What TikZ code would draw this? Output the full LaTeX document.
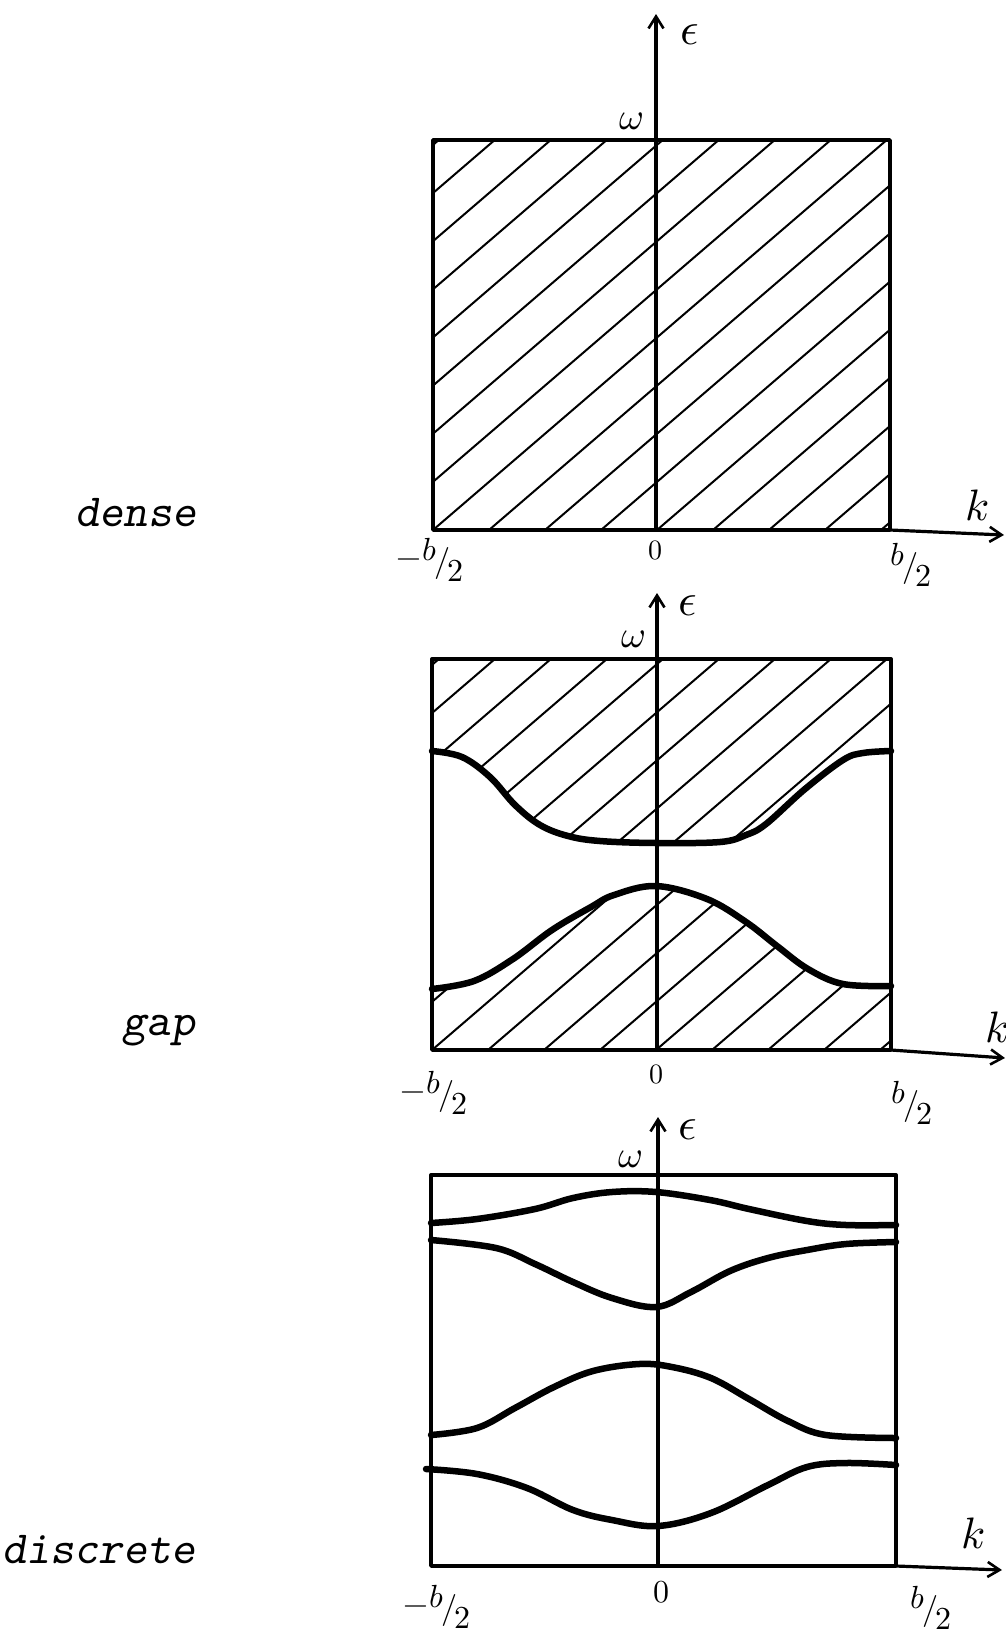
\documentclass[tikz,border=0pt]{standalone}
\usepackage{fontspec}
\usepackage{unicode-math}
\usetikzlibrary{arrows.meta}
\newcommand\halfb{\raisebox{0.34em}{$b$}\kern-0.08em$/$\kern-0.08em\raisebox{-0.30em}{$2$}}
\newcommand\negb{\raisebox{0.12em}{$-$}\kern0.05em\halfb}
\begin{document}
\begin{tikzpicture}[x=1pt,y=-1pt,
  frame/.style={line width=3.4pt, line join=round},
  axisline/.style={line width=3.2pt, -{Straight Barb[length=12pt,width=15pt,line width=2.6pt]}},
  hatch/.style={line width=2pt},
  band/.style={line width=6.5pt, line cap=round, line join=round},
  epslab/.style={font=\fontsize{46}{50}\selectfont, inner sep=0pt},
  omglab/.style={font=\fontsize{38}{42}\selectfont, inner sep=0pt},
  klab/.style={font=\fontsize{44}{48}\selectfont, inner sep=0pt},
  fraclab/.style={font=\fontsize{32}{36}\selectfont, inner sep=0pt},
  zerolab/.style={font=\fontsize{28}{32}\selectfont, inner sep=0pt},
  bigzerolab/.style={font=\fontsize{32}{36}\selectfont, inner sep=0pt},
  wordlab/.style={font=\fontsize{46}{50}\selectfont\ttfamily\slshape, inner sep=0pt}]
\useasboundingbox (0,0) rectangle (1006,1636);
\fill[white] (0,0) rectangle (1006,1636);

% ---------- panel 1 : dense ----------
\coordinate (a1) at (433,140);
\coordinate (b1) at (890,530);
\begin{scope}
  \clip (a1) rectangle (b1);
  \foreach \i in {-9,...,9} \draw[hatch] ({433+56*\i},530) -- ++(470,-404);
\end{scope}
\draw[frame] (a1) rectangle (b1);
\coordinate (o1) at (656,530);
\coordinate (t1) at (656,14);
\coordinate (r1) at (1004,535);
\draw[axisline] (o1) -- (t1);
\draw[axisline] (b1) -- (r1);
\node[epslab] (eps1) at (690,35) {$\epsilon$};
\node[omglab] (om1) at (632,121) {$\omega$};
\node[klab] (k1) at (977,505) {$k$};
\node[fraclab] (mb1) at (430,560) {\negb};
\node[zerolab] (z1) at (655,550) {$0$};
\node[fraclab] (pb1) at (911,565) {\halfb};
\node[wordlab] (w1) at (136,513) {dense};

% ---------- panel 2 : gap ----------
\coordinate (a2) at (432,659);
\coordinate (b2) at (891,1050);
\def\uppertwo{(432,751) (462,757) (490,777) (515,805) (540,825) (568,836) (600,841) (656,843) (720,842) (746,835) (766,824) (805,789) (843,760) (863,753) (891,751)}
\def\lowertwo{(432,989) (474,981) (513,959) (552,930) (591,907) (614,895) (656,886) (707,899) (746,922) (777,946) (808,969) (843,984) (891,986)}
\begin{scope}
  \clip (432,659) -- (891,659) -- (891,751) -- plot[smooth,tension=0.6] coordinates {(863,753) (843,760) (805,789) (766,824) (746,835) (720,842) (656,843) (600,841) (568,836) (540,825) (515,805) (490,777) (462,757) (432,751)} -- cycle
        (432,1050) -- (891,1050) -- (891,986) -- plot[smooth,tension=0.6] coordinates {(843,984) (808,969) (777,946) (746,922) (707,899) (656,886) (614,895) (591,907) (552,930) (513,959) (474,981) (432,989)} -- cycle;
  \foreach \i in {-9,...,9} \draw[hatch] ({432+56*\i},1050) -- ++(470,-404);
\end{scope}
\draw[frame] (a2) rectangle (b2);
\draw[band] plot[smooth,tension=0.6] coordinates {\uppertwo};
\draw[band] plot[smooth,tension=0.6] coordinates {\lowertwo};
\coordinate (o2) at (657,1050);
\coordinate (t2) at (657,593);
\coordinate (r2) at (1005,1058);
\draw[axisline] (o2) -- (t2);
\draw[axisline] (b2) -- (r2);
\node[epslab] (eps2) at (688,606) {$\epsilon$};
\node[omglab] (om2) at (634,639) {$\omega$};
\node[klab] (k2) at (997,1027) {$k$};
\node[fraclab] (mb2) at (434,1093) {\negb};
\node[zerolab] (z2) at (656,1074) {$0$};
\node[fraclab] (pb2) at (912,1103) {\halfb};
\node[wordlab] (w2) at (159,1031) {gap};

% ---------- panel 3 : discrete ----------
\coordinate (a3) at (431,1175);
\coordinate (b3) at (896,1566);
\draw[frame] (a3) rectangle (b3);
\draw[band] plot[smooth,tension=0.6] coordinates {(431,1223) (477,1219) (535,1209) (573,1198) (612,1192) (656,1192) (710,1200) (749,1209) (807,1221) (846,1225) (896,1225)};
\draw[band] plot[smooth,tension=0.6] coordinates {(431,1240) (496,1248) (535,1264) (573,1282) (612,1298) (656,1307) (691,1292) (730,1271) (768,1258) (807,1250) (846,1244) (896,1242)};
\draw[band] plot[smooth,tension=0.6] coordinates {(431,1435) (477,1428) (515,1408) (554,1387) (593,1371) (639,1364) (672,1367) (711,1378) (749,1399) (788,1421) (826,1435) (896,1438)};
\draw[band] plot[smooth,tension=0.6] coordinates {(426,1469) (477,1474) (527,1488) (573,1510) (612,1520) (658,1526) (711,1513) (768,1485) (807,1467) (846,1463) (896,1465)};
\coordinate (o3) at (658,1566);
\coordinate (t3) at (658,1117);
\coordinate (r3) at (1002,1570);
\draw[axisline] (o3) -- (t3);
\draw[axisline] (b3) -- (r3);
\node[epslab] (eps3) at (688,1130) {$\epsilon$};
\node[omglab] (om3) at (631,1159) {$\omega$};
\node[klab] (k3) at (973,1533) {$k$};
\node[fraclab] (mb3) at (437,1607) {\negb};
\node[bigzerolab] (z3) at (661,1592) {$0$};
\node[fraclab] (pb3) at (931,1608) {\halfb};
\node[wordlab] (w3) at (99,1550) {discrete};
\end{tikzpicture}
\end{document}
